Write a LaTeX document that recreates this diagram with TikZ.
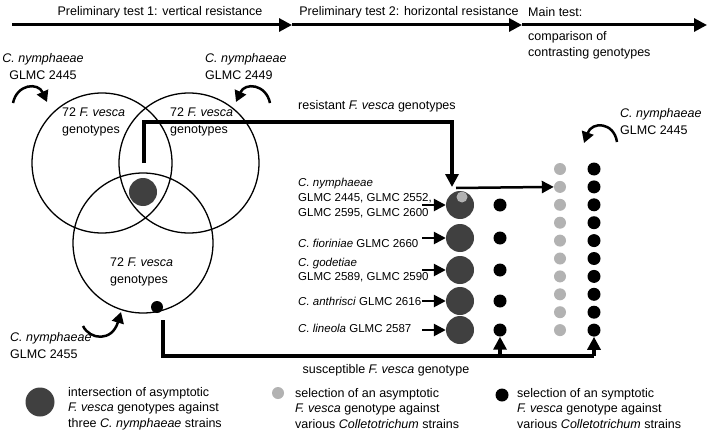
\documentclass[tikz,border=0pt]{standalone}
\usepackage{fontspec}
\setmainfont{Liberation Sans}
\usetikzlibrary{arrows.meta}
\definecolor{dgray}{HTML}{404040}
\definecolor{lgray}{HTML}{B2B2B2}
\begin{document}
\begin{tikzpicture}[x=1pt,y=-1pt,
  txt/.style={inner sep=0pt, font=\fontsize{12.5}{17}\selectfont},
  ltxt/.style={txt, anchor=west, align=left},
  ctxt/.style={inner sep=0pt, anchor=west, align=left, font=\fontsize{11.5}{15}\selectfont},
  legtxt/.style={inner sep=0pt, anchor=west, align=left, font=\fontsize{12.5}{15.5}\selectfont},
  venn/.style={circle, draw, line width=1.3pt, minimum size=140pt, inner sep=0pt},
  bigdot/.style={circle, fill=dgray, minimum size=28pt, inner sep=0pt},
  gdot/.style={circle, fill=lgray, minimum size=12pt, inner sep=0pt},
  bdot/.style={circle, fill=black, minimum size=13pt, inner sep=0pt},
  timeline/.style={line width=3pt, -{Triangle[length=13pt,width=13pt]}},
  heavy/.style={line width=3.2pt},
  heavyarr/.style={line width=3.2pt, -{Triangle[length=13pt,width=13pt]}},
  midarr/.style={line width=2.5pt, -{Triangle[length=12pt,width=12pt]}},
  curvarr/.style={line width=2.5pt, -{Triangle[length=11pt,width=12pt]}}
]
\fill[white] (0,0) rectangle (709,436);
\useasboundingbox (0,0) rectangle (709,436);

% header
\node[txt] (h1) at (160,12) {Preliminary test 1: vertical resistance};
\node[txt] (h2) at (409,12) {Preliminary test 2: horizontal resistance};
\node[ltxt] (h3) at (528,12) {Main test:};
\node[ltxt, font=\fontsize{12.5}{15.5}\selectfont] (h4) at (528,45.5) {comparison of\\contrasting genotypes};
\coordinate (t0) at (12,25);
\coordinate (t1) at (292,25);
\coordinate (t2) at (522,25);
\coordinate (t3) at (707,25);
\draw[timeline] (t0) -- (t1);
\draw[timeline] (t1) -- (t2);
\draw[timeline] (t2) -- (t3);

% venn circles
\node[venn] (c1) at (102,163) {};
\node[venn] (c2) at (189,163) {};
\node[venn] (c3) at (143,243) {};
\node[ltxt] (c1t) at (62,121.5) {72 \textit{F. vesca}\\genotypes};
\node[ltxt] (c2t) at (170,121.5) {72 \textit{F. vesca}\\genotypes};
\node[ltxt] (c3t) at (110,271.5) {72 \textit{F. vesca}\\genotypes};
\node[bigdot] (dd) at (143,192) {};
\node[bdot, minimum size=12pt] (bd) at (157,307) {};

% strain labels
\node[txt, align=center] (s1) at (43,66.5) {\textit{C. nymphaeae}\\GLMC 2445};
\node[ltxt] (s2) at (205,66.5) {\textit{C. nymphaeae}\\GLMC 2449};
\node[ltxt] (s3) at (10,346) {\textit{C. nymphaeae}\\GLMC 2455};
\node[ltxt] (s4) at (620,121.5) {\textit{C. nymphaeae}\\GLMC 2445};

% curved arrows
\coordinate (a1s) at (13,103); \coordinate (a1e) at (47,102);
\draw[curvarr] (a1s) .. controls (17,84) and (38,82) .. (a1e);
\coordinate (a2s) at (270,103); \coordinate (a2e) at (236,102);
\draw[curvarr] (a2s) .. controls (266,84) and (245,82) .. (a2e);
\coordinate (a3s) at (83,326); \coordinate (a3e) at (121,312);
\draw[curvarr] (a3s) .. controls (90,340) and (112,342) .. (a3e);
\coordinate (a4s) at (617,142); \coordinate (a4e) at (584,143);
\draw[curvarr] (a4s) .. controls (614,122) and (592,121) .. (a4e);

% resistant connector
\coordinate (ls) at (144,163);
\coordinate (lk) at (452,122);
\coordinate (lt) at (452,187);
\draw[heavyarr] (ls) |- (lk) -- (lt);
\node[ltxt] (rl) at (298,106) {resistant \textit{F. vesca} genotypes};

% second column
\foreach \i/\y in {1/205,2/238,3/270,4/301,5/330}{
  \node[bigdot] (B\i) at (460,\y) {};
  \node[bdot] (S\i) at (500,\y) {};
  \coordinate (la\i) at (422,\y);
  \draw[midarr] (la\i) -- (B\i.west);
}
\node[gdot, minimum size=11pt] (lg) at (462,197) {};
\node[ctxt] (l1) at (298,198) {\textit{C. nymphaeae}\\GLMC 2445, GLMC 2552,\\GLMC 2595, GLMC 2600};
\node[ctxt] (l2) at (298,243) {\textit{C. fioriniae} GLMC 2660};
\node[ctxt, font=\fontsize{11.5}{14}\selectfont] (l3) at (298,270) {\textit{C. godetiae}\\GLMC 2589, GLMC 2590};
\node[ctxt] (l4) at (298,301) {\textit{C. anthrisci} GLMC 2616};
\node[ctxt] (l5) at (298,328) {\textit{C. lineola} GLMC 2587};

% main test columns
\foreach \i in {1,...,10}{
  \pgfmathsetmacro{\yy}{169+(\i-1)*17.9}
  \node[gdot] (G\i) at (560,\yy) {};
  \node[bdot] (K\i) at (594,\yy) {};
}
\coordinate (ra) at (456,188);
\draw[midarr] (ra) -- (G2.west);

% susceptible connector
\coordinate (bs) at (163,320);
\coordinate (bk) at (594,356);
\draw[heavy] (bs) |- (bk);
\draw[heavyarr] (S5 |- bk) -- (S5.south);
\draw[heavyarr] (bk) -- (K10.south);
\node[txt] (sl) at (386,370) {susceptible \textit{F. vesca} genotype};

% legend
\node[bigdot, minimum size=29pt] (L1) at (40,402) {};
\node[legtxt] (L1t) at (68,408.5) {intersection of asymptotic\\\textit{F. vesca} genotypes against\\three \textit{C. nymphaeae} strains};
\node[gdot] (L2) at (278,393) {};
\node[legtxt] (L2t) at (295,408.5) {selection of an asymptotic\\\textit{F. vesca} genotype against\\various \textit{Colletotrichum} strains};
\node[bdot] (L3) at (502,395) {};
\node[legtxt] (L3t) at (517,408.5) {selection of an symptotic\\\textit{F. vesca} genotype against\\various \textit{Colletotrichum} strains};
\end{tikzpicture}
\end{document}
